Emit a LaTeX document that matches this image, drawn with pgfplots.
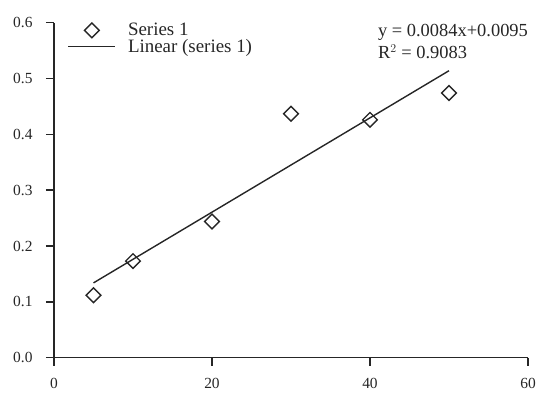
\documentclass[border=0pt]{standalone}
\usepackage{pgfplots}
\pgfplotsset{compat=1.18}
\usepackage{fontspec}
\setmainfont{Liberation Serif}
\begin{document}
\begin{tikzpicture}
\path[use as bounding box] (-54bp,-36.3bp) rectangle (486bp,357.7bp);
\begin{axis}[
  at={(0,0)}, anchor=south west,
  scale only axis, width=474bp, height=335bp,
  xmin=0, xmax=60, ymin=0, ymax=0.6,
  axis lines=left,
  axis line style={-, line width=1.3bp, draw=black!85},
  xtick={0,20,40,60}, ytick={0,0.1,0.2,0.3,0.4,0.5,0.6},
  tick align=outside, major tick length=8bp,
  major tick style={draw=black!85, line width=1.5bp},
  /pgf/number format/assume math mode=true,
  ticklabel style={font=\fontsize{15.5}{17}\selectfont, text=black!85},
  yticklabel style={/pgf/number format/fixed, /pgf/number format/fixed zerofill, /pgf/number format/precision=1, xshift=-10bp},
  xticklabel style={yshift=-9bp},
  legend style={draw=none, fill=none, at={(axis cs:1.7,0.601)}, anchor=north west,
    font=\fontsize{19}{20}\selectfont, inner sep=0pt, row sep=0bp,
    nodes={inner sep=1bp, text=black!85},
    /tikz/every odd column/.append style={column sep=11bp}},
  legend cell align=left,
  legend image code/.code={\draw[mark repeat=2,mark phase=2,#1] plot coordinates {(0bp,0bp) (23.5bp,0bp) (47bp,0bp)};},
  clip=false,
]
\addplot[only marks, mark=square, mark size=5.2bp, mark options={rotate=45, line width=1.4bp, draw=black!85, fill=white}]
  coordinates {(5,0.112) (10,0.173) (20,0.244) (30,0.437) (40,0.426) (50,0.474)};
\addlegendentry{Series 1}
\addplot[line width=1.4bp, draw=black!85, no marks]
  coordinates {(5,0.134) (50,0.514)};
\addlegendentry{Linear (series 1)}
\node[anchor=north west, align=left, font=\fontsize{18.5}{21.5}\selectfont, text=black!85, inner sep=0pt]
  at (axis cs:41,0.597) {y = 0.0084x+0.0095\\R$^2$ = 0.9083};
\pgfplotsinvokeforeach{0,0.1,0.2,0.3,0.4,0.5,0.6}{\draw[line width=1.5bp, black!85] (axis cs:0,#1) -- (axis cs:-1.0,#1);}
\pgfplotsinvokeforeach{0,20,40,60}{\draw[line width=1.5bp, black!85] (axis cs:#1,0) -- (axis cs:#1,-0.0145);}
\end{axis}
\end{tikzpicture}
\end{document}
